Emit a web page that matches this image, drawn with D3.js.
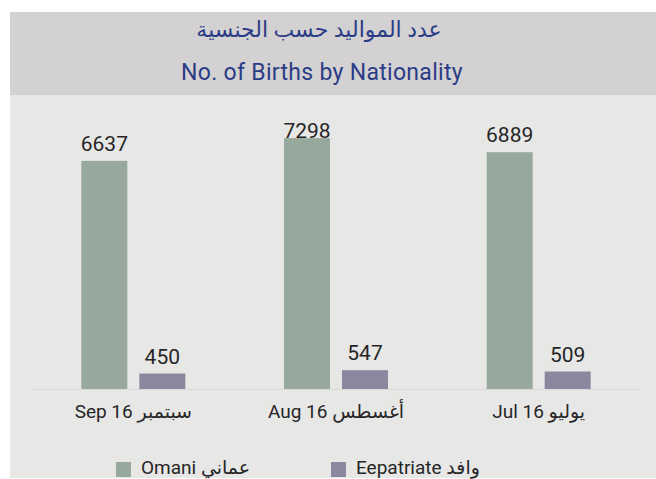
<!DOCTYPE html>
<html>
<head>
<meta charset="utf-8">
<script src="https://cdn.jsdelivr.net/npm/d3@7"></script>
<style>
  body { margin: 0; background: #fff; }
  svg { display: block; font-family: Roboto, "DejaVu Sans", sans-serif; }
</style>
</head>
<body>
<svg id="chart"></svg>
<script>
// months as shown, left to right
const months = ['Sep 16 سبتمبر', 'Aug 16 أغسطس', 'Jul 16 يوليو'];
const omani = [6637, 7298, 6889];
const expat = [450, 547, 509];
const seriesNames = ['Omani عماني', 'Eepatriate وافد'];
const seriesColors = ['#97a99d', '#8a889e'];
const titleAr = 'عدد المواليد حسب الجنسية';
const titleEn = 'No. of Births by Nationality';

const width = 656, height = 479;
const svg = d3.select('#chart').attr('width', width).attr('height', height);

// panels
svg.append('rect').attr('x', 10).attr('y', 12).attr('width', width - 10).attr('height', 83).attr('fill', '#d3d1d2');
svg.append('rect').attr('x', 10).attr('y', 95).attr('width', width - 10).attr('height', 383).attr('fill', '#e7e7e6');

svg.append('text').attr('x', 319).attr('y', 37).attr('text-anchor', 'middle')
    .attr('fill', '#2b3c86').style('font-size', '22px').text(titleAr);
svg.append('text').attr('x', 322).attr('y', 80).attr('text-anchor', 'middle')
    .attr('fill', '#2b3c86').style('font-size', '23px').style('letter-spacing', '0.3px').text(titleEn);

const x0 = d3.scaleBand().domain(months).range([32, 640]);
const x1 = d3.scaleBand().domain([0, 1])
    .range([x0.bandwidth() / 2 - 52, x0.bandwidth() / 2 + 52])
    .paddingInner(0.207);
const y = d3.scaleLinear().domain([0, 8000]).range([389, 114]);

const rows = months.map((m, i) => ({ month: m, values: [omani[i], expat[i]] }));

const groups = svg.append('g').selectAll('g')
    .data(rows)
    .enter()
    .append('g')
    .attr('transform', d => 'translate(' + x0(d.month) + ',0)');

groups.selectAll('rect')
    .data(d => d.values.map((v, k) => ({ k: k, v: v })))
    .enter()
    .append('rect')
    .attr('x', d => x1(d.k))
    .attr('y', d => y(d.v))
    .attr('width', x1.bandwidth())
    .attr('height', d => y(0) - y(d.v))
    .attr('fill', d => seriesColors[d.k]);

// value labels, kept below the plot top
groups.selectAll('text.val')
    .data(d => d.values.map((v, k) => ({ k: k, v: v })))
    .enter()
    .append('text')
    .attr('class', 'val')
    .attr('x', d => x1(d.k) + x1.bandwidth() / 2)
    .attr('y', d => Math.max(y(d.v) - 10, 138))
    .attr('text-anchor', 'middle')
    .attr('fill', '#262626')
    .style('font-size', '21px')
    .text(d => d.v);

// baseline
svg.append('line').attr('x1', 32).attr('x2', 640).attr('y1', 389.5).attr('y2', 389.5)
    .attr('stroke', '#d9d9d9').attr('stroke-width', 1);

const xAxis = svg.append('g')
    .attr('transform', 'translate(0,389)')
    .call(d3.axisBottom(x0).tickSize(0).tickPadding(16));
xAxis.select('.domain').remove();
xAxis.selectAll('text')
    .attr('fill', '#262626')
    .style('font-size', '19px')
    .style('font-family', 'Roboto, "DejaVu Sans", sans-serif');

// legend
const legendX = [116, 331];
const legend = svg.append('g').selectAll('g')
    .data(seriesNames)
    .enter()
    .append('g')
    .attr('transform', (d, i) => 'translate(' + legendX[i] + ',462)');
legend.append('rect').attr('width', 15).attr('height', 15).attr('fill', (d, i) => seriesColors[i]);
legend.append('text').attr('x', 25).attr('y', 12).attr('fill', '#262626')
    .style('font-size', '19px').text(d => d);
</script>
</body>
</html>
